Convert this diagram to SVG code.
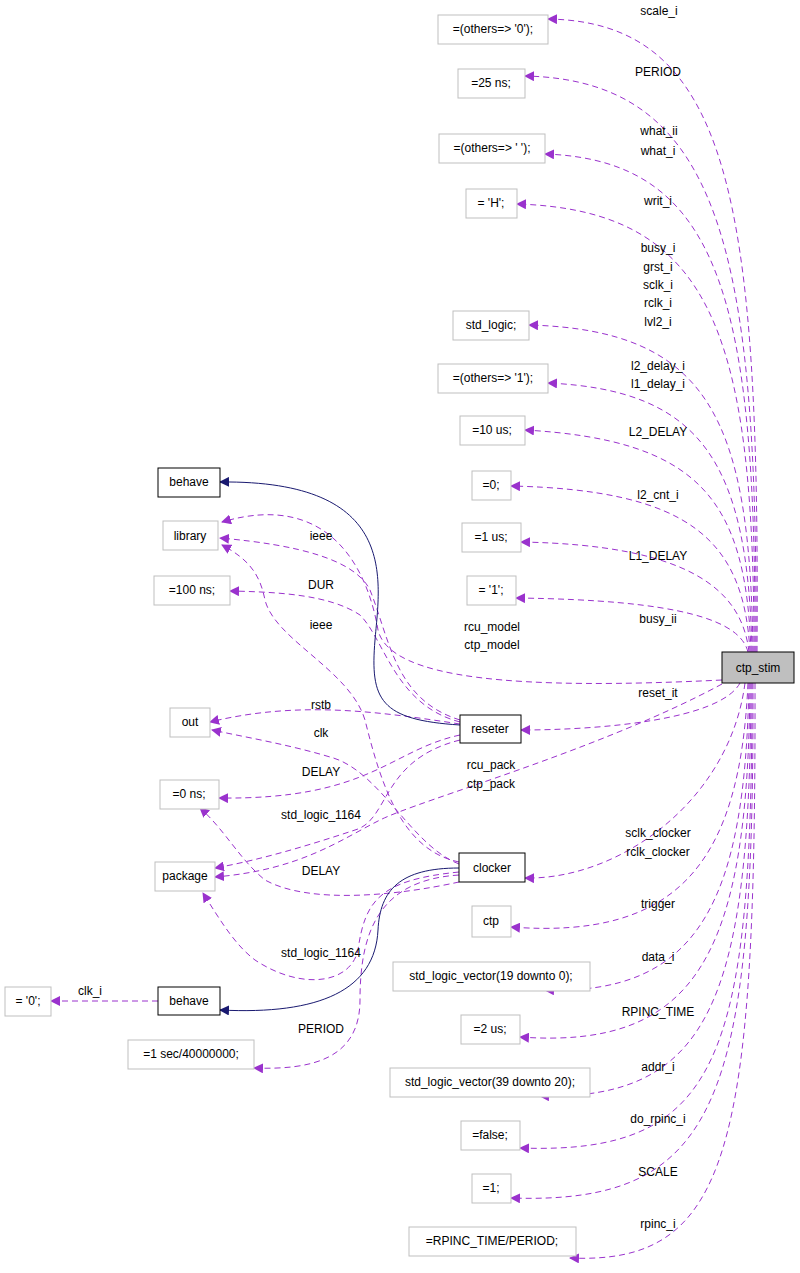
<svg xmlns="http://www.w3.org/2000/svg" width="800" height="1273" viewBox="0 0 800 1273">
<defs>
<marker id="ap" viewBox="0 0 10 10" refX="9" refY="5" markerWidth="10" markerHeight="10" markerUnits="userSpaceOnUse" orient="auto"><path d="M0,0 L10,5 L0,10 z" fill="#9a32cd"/></marker>
<marker id="ab" viewBox="0 0 10 10" refX="9" refY="5" markerWidth="10" markerHeight="10" markerUnits="userSpaceOnUse" orient="auto"><path d="M0,0 L10,5 L0,10 z" fill="#191970"/></marker>
<style>
.g rect{fill:#fff;stroke:#bfbfbf;stroke-width:1}
.k rect{fill:#fff;stroke:#000;stroke-width:1}
text{font-family:"Liberation Sans",Arial,sans-serif;font-size:12px;text-anchor:middle;fill:#000}
.d{fill:none;stroke:#9a32cd;stroke-dasharray:6,4;marker-end:url(#ap)}
.b{fill:none;stroke:#191970;marker-end:url(#ab)}
</style>
</defs>
<rect width="800" height="1273" fill="#fff"/>
<g id="edges">
<path class="d" d="M757,652 C760,200 730,22 548,19"/>
<path class="d" d="M756,652 C758,250 720,80 525,76"/>
<path class="d" d="M755,652 C756,300 720,160 545,154"/>
<path class="d" d="M754,652 C754,330 710,210 517,204"/>
<path class="d" d="M753,652 C750,420 710,330 529,325"/>
<path class="d" d="M752,652 C748,460 700,390 548,383"/>
<path class="d" d="M751,652 C746,500 700,440 525,430"/>
<path class="d" d="M750,652 C744,540 690,490 511,486"/>
<path class="d" d="M749,652 C742,590 690,545 521,542"/>
<path class="d" d="M748,652 C740,620 680,600 516,598"/>
<path class="d" d="M722,680 C520,690 390,680 378,630 C368,570 330,490 222,522"/>
<path class="d" d="M460,720 C395,700 390,640 370,590 C355,560 300,545 220,538"/>
<path class="d" d="M460,722 C395,705 385,640 360,615 C330,595 280,592 230,591"/>
<path class="d" d="M459,862 C400,850 380,780 365,720 C350,670 275,640 265,600 C260,575 250,560 222,545"/>
<path class="d" d="M460,724 C380,712 300,700 210,722"/>
<path class="d" d="M459,864 C410,845 380,770 330,757 C290,745 250,738 212,730"/>
<path class="d" d="M460,735 C390,750 370,800 219,798"/>
<path class="d" d="M460,740 C380,760 390,820 355,830 C310,845 260,860 215,868"/>
<path class="d" d="M722,684 C600,750 420,800 380,820 C340,840 300,870 215,877"/>
<path class="d" d="M459,882 C400,895 310,905 265,880 C240,860 225,830 200,808"/>
<path class="d" d="M459,872 C380,880 365,900 358,950 C350,985 300,990 255,960 C235,945 220,920 203,893"/>
<path class="d" d="M459,875 C380,880 360,930 360,1000 C360,1060 310,1070 254,1068"/>
<path class="d" d="M740,683 C720,720 600,730 521,730"/>
<path class="d" d="M745,683 C730,800 620,880 525,878"/>
<path class="d" d="M748,683 C740,860 680,940 511,927"/>
<path class="d" d="M749,683 C745,900 700,995 545,990"/>
<path class="d" d="M750,683 C748,950 700,1050 520,1037"/>
<path class="d" d="M751,683 C750,1000 710,1100 540,1096"/>
<path class="d" d="M752,683 C752,1060 720,1155 520,1148"/>
<path class="d" d="M753,683 C754,1100 720,1205 511,1198"/>
<path class="d" d="M755,683 C756,1150 730,1265 570,1258"/>
<path class="b" d="M460,725 C380,720 370,700 375,640 C380,580 400,480 220,482"/>
<path class="b" d="M459,868 C400,868 380,890 378,930 C375,990 320,1015 220,1010"/>
<path class="d" d="M158,1001 L51,1001"/>
</g>
<g id="labels">
<text x="659" y="15">scale_i</text>
<text x="658" y="76">PERIOD</text>
<text x="659" y="135">what_ii</text>
<text x="658" y="155">what_i</text>
<text x="658" y="205">writ_i</text>
<text x="658" y="252">busy_i</text>
<text x="658" y="271">grst_i</text>
<text x="658" y="289">sclk_i</text>
<text x="658" y="307">rclk_i</text>
<text x="658" y="326">lvl2_i</text>
<text x="658" y="370">l2_delay_i</text>
<text x="658" y="388">l1_delay_i</text>
<text x="658" y="436">L2_DELAY</text>
<text x="658" y="499">l2_cnt_i</text>
<text x="658" y="560">L1_DELAY</text>
<text x="658" y="623">busy_ii</text>
<text x="492" y="631">rcu_model</text>
<text x="492" y="649">ctp_model</text>
<text x="658" y="697">reset_it</text>
<text x="491" y="769">rcu_pack</text>
<text x="491" y="788">ctp_pack</text>
<text x="658" y="837">sclk_clocker</text>
<text x="658" y="856">rclk_clocker</text>
<text x="658" y="908">trigger</text>
<text x="658" y="961">data_i</text>
<text x="658" y="1016">RPINC_TIME</text>
<text x="658" y="1071">addr_i</text>
<text x="658" y="1123">do_rpinc_i</text>
<text x="658" y="1176">SCALE</text>
<text x="658" y="1228">rpinc_i</text>
<text x="321" y="540">ieee</text>
<text x="321" y="589">DUR</text>
<text x="321" y="629">ieee</text>
<text x="321" y="709">rstb</text>
<text x="321" y="737">clk</text>
<text x="321" y="776">DELAY</text>
<text x="321" y="819">std_logic_1164</text>
<text x="321" y="875">DELAY</text>
<text x="321" y="957">std_logic_1164</text>
<text x="321" y="1033">PERIOD</text>
<text x="90" y="995">clk_i</text>
</g>
<g id="n_others0" class="g"><rect x="438" y="15" width="110" height="29"/><text x="493" y="33">=(others=&gt; '0');</text></g>
<g id="n_25ns" class="g"><rect x="458" y="69" width="67" height="29"/><text x="491" y="87">=25 ns;</text></g>
<g id="n_othersSp" class="g"><rect x="439" y="134" width="106" height="29"/><text x="492" y="152">=(others=&gt; ' ');</text></g>
<g id="n_H" class="g"><rect x="466" y="189" width="51" height="29"/><text x="491" y="207">= 'H';</text></g>
<g id="n_stdlogic" class="g"><rect x="453" y="311" width="76" height="29"/><text x="491" y="329">std_logic;</text></g>
<g id="n_others1" class="g"><rect x="438" y="364" width="110" height="29"/><text x="493" y="382">=(others=&gt; '1');</text></g>
<g id="n_10us" class="g"><rect x="460" y="416" width="65" height="29"/><text x="492" y="434">=10 us;</text></g>
<g id="n_0" class="g"><rect x="472" y="471" width="39" height="29"/><text x="491" y="489">=0;</text></g>
<g id="n_1us" class="g"><rect x="462" y="523" width="59" height="29"/><text x="491" y="541">=1 us;</text></g>
<g id="n_q1" class="g"><rect x="467" y="576" width="49" height="29"/><text x="491" y="594">= '1';</text></g>
<g id="n_ctp_stim"><rect x="722" y="652" width="72" height="31" fill="#bfbfbf" stroke="#000"/><text x="758" y="672">ctp_stim</text></g>
<g id="n_reseter" class="k"><rect x="460" y="715" width="61" height="28"/><text x="490" y="733">reseter</text></g>
<g id="n_clocker" class="k"><rect x="459" y="853" width="66" height="29"/><text x="492" y="872">clocker</text></g>
<g id="n_ctp" class="g"><rect x="472" y="906" width="39" height="31"/><text x="491" y="925">ctp</text></g>
<g id="n_slv19" class="g"><rect x="393" y="962" width="197" height="29"/><text x="491" y="980">std_logic_vector(19 downto 0);</text></g>
<g id="n_2us" class="g"><rect x="461" y="1015" width="59" height="29"/><text x="490" y="1033">=2 us;</text></g>
<g id="n_slv39" class="g"><rect x="390" y="1068" width="200" height="29"/><text x="490" y="1086">std_logic_vector(39 downto 20);</text></g>
<g id="n_false" class="g"><rect x="461" y="1121" width="59" height="29"/><text x="490" y="1139">=false;</text></g>
<g id="n_1" class="g"><rect x="472" y="1174" width="39" height="29"/><text x="491" y="1192">=1;</text></g>
<g id="n_rpinc" class="g"><rect x="409" y="1227" width="167" height="29"/><text x="492" y="1245">=RPINC_TIME/PERIOD;</text></g>
<g id="n_behave1" class="k"><rect x="158" y="468" width="62" height="29"/><text x="189" y="486">behave</text></g>
<g id="n_library" class="g"><rect x="163" y="521" width="55" height="29"/><text x="190" y="540">library</text></g>
<g id="n_100ns" class="g"><rect x="154" y="576" width="76" height="29"/><text x="192" y="594">=100 ns;</text></g>
<g id="n_out" class="g"><rect x="170" y="708" width="40" height="29"/><text x="190" y="726">out</text></g>
<g id="n_0ns" class="g"><rect x="160" y="780" width="59" height="29"/><text x="189" y="798">=0 ns;</text></g>
<g id="n_package" class="g"><rect x="155" y="862" width="60" height="29"/><text x="185" y="880">package</text></g>
<g id="n_behave2" class="k"><rect x="158" y="987" width="62" height="28"/><text x="189" y="1005">behave</text></g>
<g id="n_q0" class="g"><rect x="5" y="987" width="46" height="29"/><text x="28" y="1005">= '0';</text></g>
<g id="n_1sec" class="g"><rect x="128" y="1040" width="126" height="29"/><text x="191" y="1058">=1 sec/40000000;</text></g>
</svg>
